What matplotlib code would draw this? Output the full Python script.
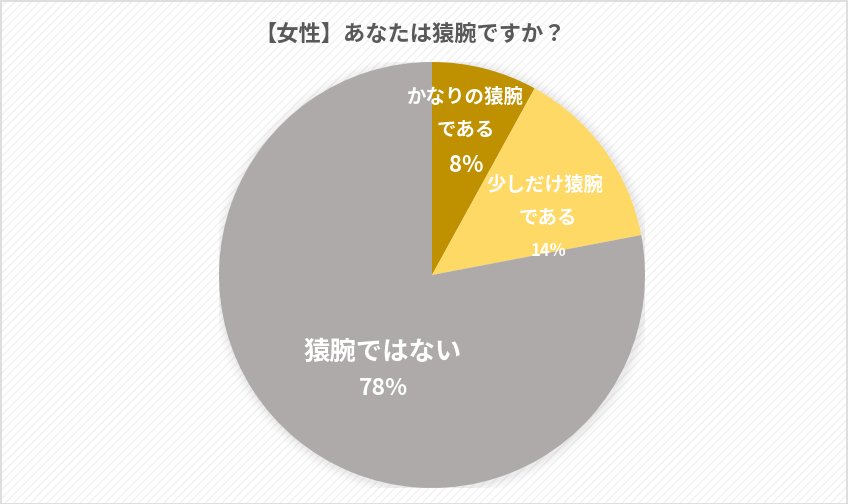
import matplotlib
matplotlib.use('Agg')
import matplotlib.pyplot as plt
from matplotlib.patches import Rectangle, Circle

plt.rcParams['font.family'] = ['Noto Sans CJK JP', 'DejaVu Sans']

# data
categories = ['かなりの猿腕\nである', '少しだけ猿腕\nである', '猿腕ではない']
values = [8, 14, 78]
pct_labels = ['8%', '14%', '78%']
colors = ['#BF9000', '#FFD966', '#AEAAAA']
title = '【女性】あなたは猿腕ですか？'

W, H = 848, 504
fig = plt.figure(figsize=(W / 100, H / 100), dpi=100)
fig.patch.set_facecolor('white')

# faint diagonal stripes + border
bg = Rectangle((0, 0), 1, 1, transform=fig.transFigure, facecolor='white',
               edgecolor='#F2F2F2', hatch='////', linewidth=0, zorder=-10)
fig.patches.append(bg)
border = Rectangle((0.5 / W, 0.5 / H), 1 - 1.5 / W, 1 - 1.5 / H, transform=fig.transFigure,
                   fill=False, edgecolor='#D9D9D9', linewidth=1.2)
fig.patches.append(border)

cx, cy, r = 432, 275, 213
ax = fig.add_axes([(cx - r) / W, (H - cy - r) / H, 2 * r / W, 2 * r / H])
ax.set_xlim(-1, 1)
ax.set_ylim(-1, 1)
ax.set_aspect('equal')
ax.axis('off')

# soft shadow
for i, a in enumerate([0.05, 0.04, 0.03, 0.02]):
    ax.add_patch(Circle((0.006, -0.006), 1.0 + 0.012 * (i + 1), color='#808080', alpha=a,
                        linewidth=0, zorder=0))

ax.pie(values, colors=colors, startangle=90, counterclock=False, radius=1,
       wedgeprops=dict(linewidth=0, zorder=1))
ax.set_xlim(-1, 1)
ax.set_ylim(-1, 1)

# label positions (axes data units)
name_pos = [(0.155, 0.836), (0.53, 0.423), (-0.23, -0.361)]
sub_pos = [(0.16, 0.681), (0.545, 0.268), None]
pct_pos = [(0.16, 0.516), (0.545, 0.113), (-0.23, -0.535)]
name_size = [14, 14, 19]
pct_size = [16, 12, 16.5]

for i, cat in enumerate(categories):
    lines = cat.split('\n')
    ax.text(*name_pos[i], lines[0], ha='center', va='center', color='white',
            fontsize=name_size[i], fontweight='bold', zorder=5)
    if len(lines) > 1:
        ax.text(*sub_pos[i], lines[1], ha='center', va='center', color='white',
                fontsize=name_size[i], fontweight='bold', zorder=5)
    ax.text(*pct_pos[i], pct_labels[i], ha='center', va='center', color='white',
            fontsize=pct_size[i], fontweight='bold', zorder=5)

fig.text(410 / W, 1 - 35 / H, title, ha='center', va='center', color='#595959',
         fontsize=16, fontweight='bold')

fig.savefig('out.png', dpi=100)
